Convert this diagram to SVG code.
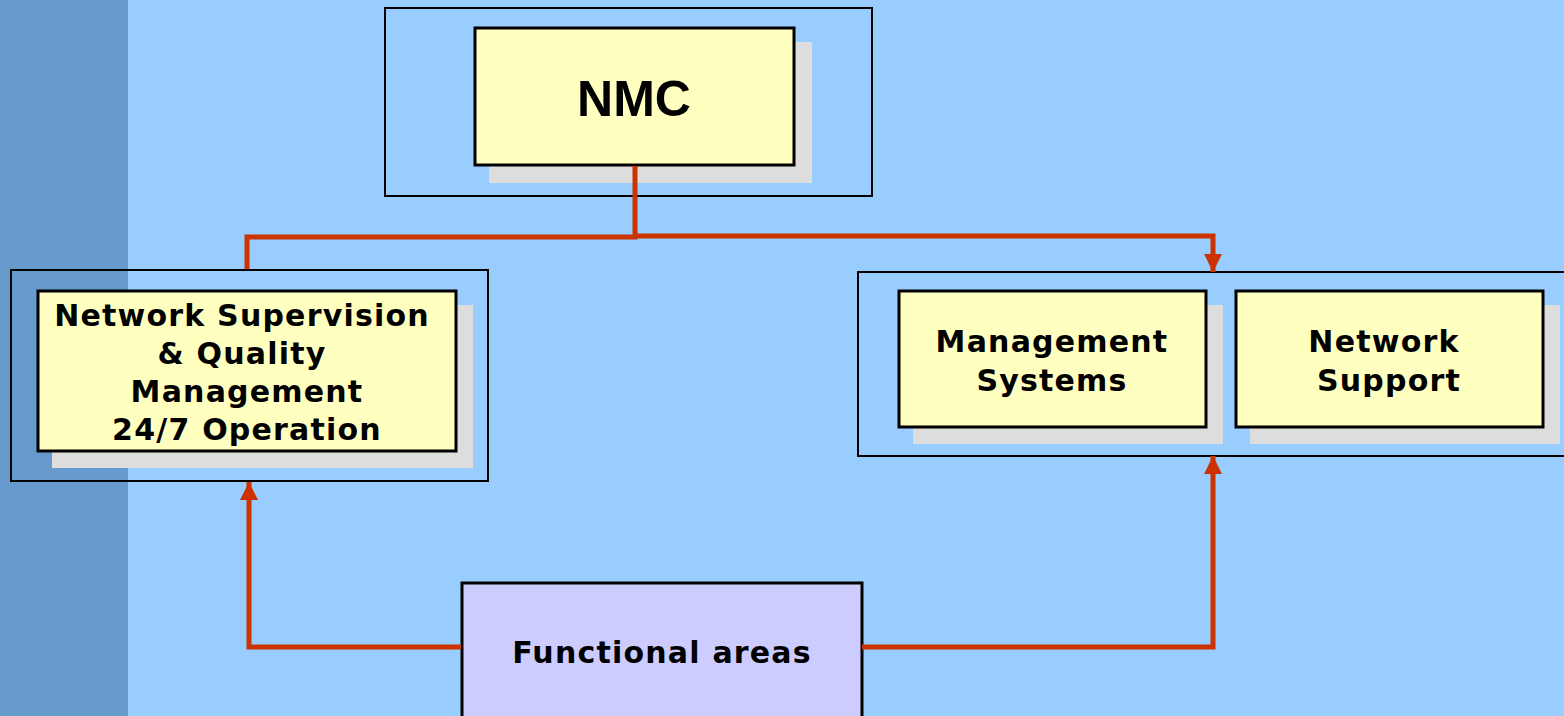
<svg xmlns="http://www.w3.org/2000/svg" width="1564" height="716" viewBox="0 0 1564 716">
<defs>
<style>
.frame{fill:none;stroke:#000;stroke-width:2}
.box{fill:#FFFFC0;stroke:#000;stroke-width:3}
.shadow{fill:#DDDDDD}
.lbl{font-family:"DejaVu Sans",Verdana,sans-serif;font-weight:bold;font-size:30px;letter-spacing:1.2px;fill:#000;text-anchor:middle}
.conn{fill:none;stroke:#CC3300;stroke-width:5}
</style>
<marker id="arr" markerUnits="userSpaceOnUse" markerWidth="18" markerHeight="18" viewBox="0 0 18 18" refX="18" refY="9" orient="auto">
<path d="M0,0 L18,9 L0,18 Z" fill="#CC3300"/>
</marker>
</defs>
<rect x="0" y="0" width="1564" height="716" fill="#99CCFF"/>
<rect x="0" y="0" width="128" height="716" fill="#6699CC"/>

<g id="nmc">
<rect class="frame" x="385" y="8" width="487" height="188"/>
<rect class="shadow" x="489" y="42" width="323" height="141"/>
<rect class="box" x="475" y="28" width="319" height="137"/>
<text x="634" y="116" font-family="'Liberation Sans',Arial,sans-serif" font-weight="bold" font-size="50" text-anchor="middle">NMC</text>
</g>

<g id="supervision">
<rect class="frame" x="11" y="270" width="477" height="211"/>
<rect class="shadow" x="52" y="305" width="421" height="163"/>
<rect class="box" x="38" y="291" width="418" height="160"/>
<text class="lbl" x="242" y="326">Network Supervision</text>
<text class="lbl" x="242" y="364">&amp; Quality</text>
<text class="lbl" x="247" y="402">Management</text>
<text class="lbl" x="247" y="440">24/7 Operation</text>
</g>

<g id="right-group">
<rect class="frame" x="858" y="272" width="712" height="184"/>
</g>

<g id="mgmt-systems">
<rect class="shadow" x="913" y="305" width="310" height="139"/>
<rect class="box" x="899" y="291" width="307" height="136"/>
<text class="lbl" x="1052" y="352">Management</text>
<text class="lbl" x="1052" y="391">Systems</text>
</g>

<g id="network-support">
<rect class="shadow" x="1250" y="305" width="310" height="139"/>
<rect class="box" x="1236" y="291" width="307" height="136"/>
<text class="lbl" x="1384" y="352">Network</text>
<text class="lbl" x="1389" y="391">Support</text>
</g>

<g id="functional-areas">
<rect x="462" y="583" width="400" height="140" fill="#CCCCFF" stroke="#000" stroke-width="3"/>
<text class="lbl" x="662" y="663">Functional areas</text>
</g>

<g id="connectors">
<polyline class="conn" points="635,166 635,237 247,237 247,269"/>
<polyline class="conn" points="635,236 1213,236 1213,272" marker-end="url(#arr)"/>
<polyline class="conn" points="461,647 249,647 249,482" marker-end="url(#arr)"/>
<polyline class="conn" points="862,647 1213,647 1213,456" marker-end="url(#arr)"/>
</g>
</svg>
